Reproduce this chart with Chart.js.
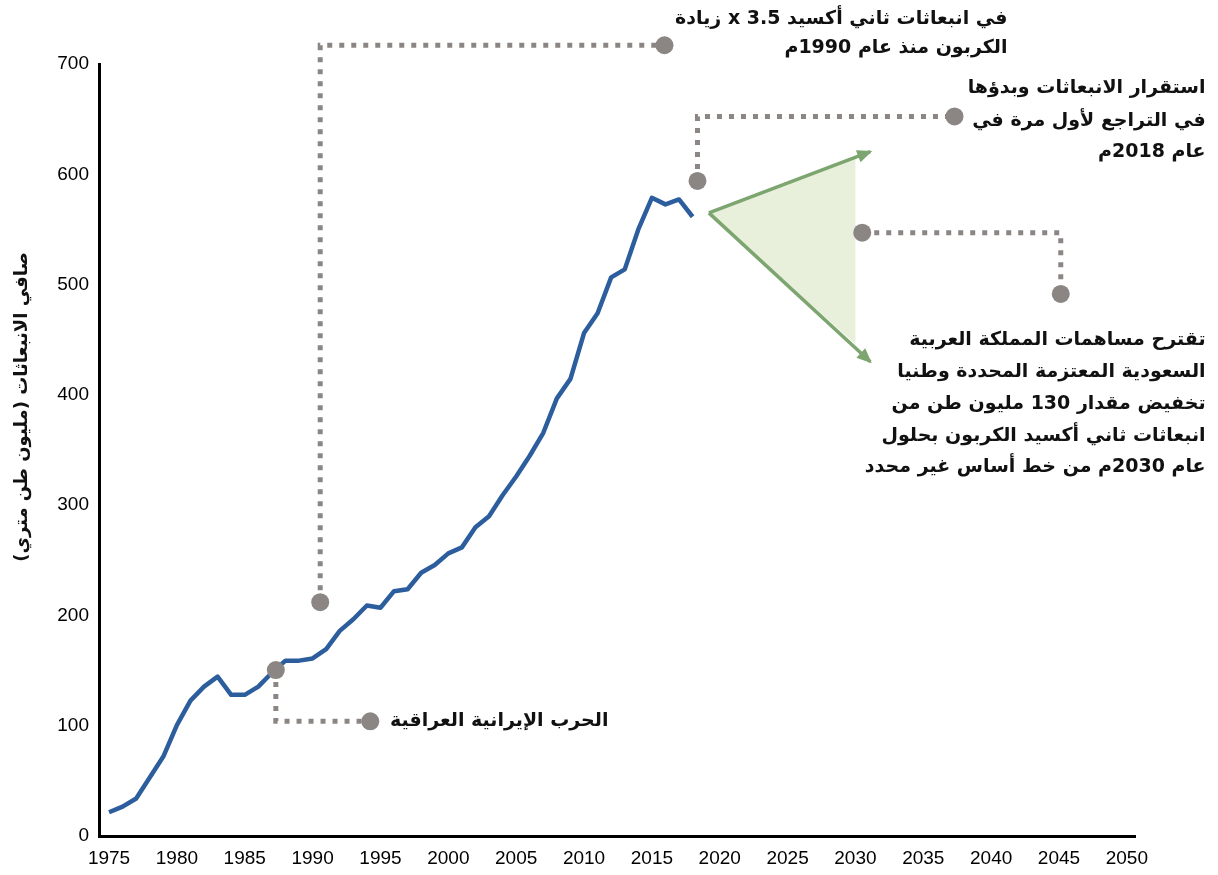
<!DOCTYPE html>
<html>
<head>
<meta charset="utf-8">
<script src="https://cdn.jsdelivr.net/npm/chart.js@4"></script>
<style>
  html, body { margin: 0; padding: 0; background: #fff; }
  #wrap { width: 1218px; height: 875px; }
</style>
</head>
<body>
<div id="wrap"><canvas id="emissionsChart" width="1218" height="875"></canvas></div>
<script>
// historical net emissions (million tonnes)
const years = [1975, 1976, 1977, 1978, 1979, 1980, 1981, 1982, 1983, 1984, 1985, 1986, 1987, 1988, 1989,
  1990, 1991, 1992, 1993, 1994, 1995, 1996, 1997, 1998, 1999, 2000, 2001, 2002, 2003, 2004, 2005, 2006,
  2007, 2008, 2009, 2010, 2011, 2012, 2013, 2014, 2015, 2016, 2017, 2018];
const emissions = [21.5, 26.6, 34, 53, 72, 100.6, 122.7, 135.4, 144.5, 128, 128, 135.4, 148, 159, 159,
  161, 169.5, 186, 196.5, 209, 207, 222, 223.7, 238.7, 245.7, 256.3, 261.7, 279.9, 290, 309, 326, 344.8,
  365.6, 396.8, 414.5, 456, 474, 506.5, 513.8, 550, 578.7, 572.7, 577.2, 561.5];

// projection wedge to 2030
const projYears = [2019.2, 2031.1];
const projUpper = [565, 620.5];
const projLower = [565, 430];
const shadeYears = [2019.2, 2030, 2030];
const shadeValues = [565, 615, 446];

// axis ticks
const xTicks = [1975, 1980, 1985, 1990, 1995, 2000, 2005, 2010, 2015, 2020, 2025, 2030, 2035, 2040, 2045, 2050];
const yTicks = [0, 100, 200, 300, 400, 500, 600, 700];

// callout connectors (first and last point get a dot)
const warX = [1987.29, 1987.29, 1994.25];
const warY = [150.5, 104, 104];
const growthX = [1990.56, 1990.56, 2015.93];
const growthY = [212, 717, 717];
const peakX = [2018.36, 2018.36, 2037.3];
const peakY = [594, 652.5, 652.5];
const ndcX = [2030.5, 2045.13, 2045.13];
const ndcY = [547, 547, 491.5];

// callout texts
const warText = ['الحرب الإيرانية العراقية'];
const growthText = ['في انبعاثات ثاني أكسيد x 3.5 زيادة', 'الكربون منذ عام 1990م'];
const peakText = ['استقرار الانبعاثات وبدؤها', 'في التراجع لأول مرة في', 'عام 2018م'];
const ndcText = ['تقترح مساهمات المملكة العربية', 'السعودية المعتزمة المحددة وطنيا',
  'تخفيض مقدار 130 مليون طن من', 'انبعاثات ثاني أكسيد الكربون بحلول', 'عام 2030م من خط أساس غير محدد'];
const yTitle = 'صافي الانبعاثات (مليون طن متري)';

const BLUE = '#2c5d9c';
const GREY = '#8b8683';
const GREEN = '#7da56f';
const arabicFont = 'bold 19px "DejaVu Sans", sans-serif';

const toPts = (xs, ys) => xs.map((x, i) => ({ x: x, y: ys[i] }));
const connectors = [[warX, warY], [growthX, growthY], [peakX, peakY], [ndcX, ndcY]];

function connector(xs, ys) {
  return {
    data: toPts(xs, ys),
    borderColor: GREY,
    borderWidth: 5,
    borderDash: [5, 7],
    borderCapStyle: 'butt',
    pointRadius: 0,
    clip: false,
    order: 3
  };
}

const labels = [
  { x: 2011.8, y: [104.5], lines: warText },
  { x: 2041.2, y: [741, 714.5], lines: growthText },
  { x: 2055.8, y: [678, 648.5, 620], lines: peakText },
  { x: 2055.8, y: [449.7, 420.7, 391.7, 362.7, 334.5], lines: ndcText }
];

const annotate = {
  id: 'annotate',
  afterDatasetsDraw(chart) {
    const ctx = chart.ctx;
    const xs = chart.scales.x, ys = chart.scales.y;
    // arrowheads at the end of the projection lines
    [projUpper, projLower].forEach(vals => {
      const x0 = xs.getPixelForValue(projYears[0]), y0 = ys.getPixelForValue(vals[0]);
      const x1 = xs.getPixelForValue(projYears[1]), y1 = ys.getPixelForValue(vals[1]);
      const a = Math.atan2(y1 - y0, x1 - x0);
      ctx.save();
      ctx.translate(x1, y1);
      ctx.rotate(a);
      ctx.fillStyle = GREEN;
      ctx.beginPath();
      ctx.moveTo(2, 0);
      ctx.lineTo(-13, -6.5);
      ctx.lineTo(-13, 6.5);
      ctx.closePath();
      ctx.fill();
      ctx.restore();
    });
    // dots at both ends of every connector
    ctx.save();
    ctx.fillStyle = GREY;
    connectors.forEach(([cx, cy]) => {
      [0, cx.length - 1].forEach(i => {
        ctx.beginPath();
        ctx.arc(xs.getPixelForValue(cx[i]), ys.getPixelForValue(cy[i]), 9, 0, Math.PI * 2);
        ctx.fill();
      });
    });
    ctx.restore();
    // callout texts
    ctx.save();
    ctx.direction = 'rtl';
    ctx.font = arabicFont;
    ctx.fillStyle = '#111';
    ctx.textAlign = 'right';
    ctx.textBaseline = 'middle';
    labels.forEach(l => {
      const px = xs.getPixelForValue(l.x);
      l.lines.forEach((t, i) => ctx.fillText(t, px, ys.getPixelForValue(l.y[i])));
    });
    ctx.restore();
    // y axis title
    ctx.save();
    ctx.direction = 'rtl';
    ctx.font = 'bold 18px "DejaVu Sans", sans-serif';
    ctx.fillStyle = '#111';
    ctx.textAlign = 'center';
    ctx.textBaseline = 'middle';
    ctx.translate(22, ys.getPixelForValue(389));
    ctx.rotate(-Math.PI / 2);
    ctx.fillText(yTitle, 0, 0);
    ctx.restore();
  }
};

const ctx = document.getElementById('emissionsChart').getContext('2d');
const emissionsChart = new Chart(ctx, {
  type: 'line',
  data: {
    datasets: [
      {
        data: toPts(years, emissions),
        borderColor: BLUE,
        borderWidth: 4.5,
        borderJoinStyle: 'round',
        pointRadius: 0,
        tension: 0,
        order: 0
      },
      connector(warX, warY),
      connector(growthX, growthY),
      connector(peakX, peakY),
      connector(ndcX, ndcY),
      {
        data: toPts(projYears, projUpper),
        borderColor: GREEN,
        borderWidth: 3.5,
        pointRadius: 0,
        clip: false,
        order: 4
      },
      {
        data: toPts(projYears, projLower),
        borderColor: GREEN,
        borderWidth: 3.5,
        pointRadius: 0,
        clip: false,
        order: 4
      },
      {
        data: toPts(shadeYears, shadeValues),
        borderWidth: 0,
        borderColor: 'rgba(0,0,0,0)',
        backgroundColor: '#e8f0dc',
        fill: 'shape',
        pointRadius: 0,
        order: 5
      }
    ]
  },
  options: {
    responsive: false,
    animation: false,
    events: [],
    layout: { padding: { left: 41, right: 83, top: 64, bottom: 0 } },
    plugins: {
      legend: { display: false },
      tooltip: { enabled: false }
    },
    scales: {
      x: {
        type: 'linear',
        min: 1974.26,
        max: 2050.6,
        afterBuildTicks: axis => { axis.ticks = xTicks.map(v => ({ value: v })); },
        afterFit: axis => { axis.height = 39; },
        grid: { display: false, drawTicks: false },
        border: { color: '#000', width: 3 },
        ticks: {
          padding: 11,
          color: '#000',
          maxRotation: 0,
          autoSkip: false,
          font: { family: '"Liberation Sans", Arial, sans-serif', size: 19 },
          callback: v => String(v)
        }
      },
      y: {
        min: 0,
        max: 700,
        afterBuildTicks: axis => { axis.ticks = yTicks.map(v => ({ value: v })); },
        afterFit: axis => { axis.width = 58; },
        grid: { display: false, drawTicks: false },
        border: { color: '#000', width: 3 },
        ticks: {
          padding: 10,
          color: '#000',
          font: { family: '"Liberation Sans", Arial, sans-serif', size: 19 }
        }
      }
    }
  },
  plugins: [annotate]
});
</script>
</body>
</html>
